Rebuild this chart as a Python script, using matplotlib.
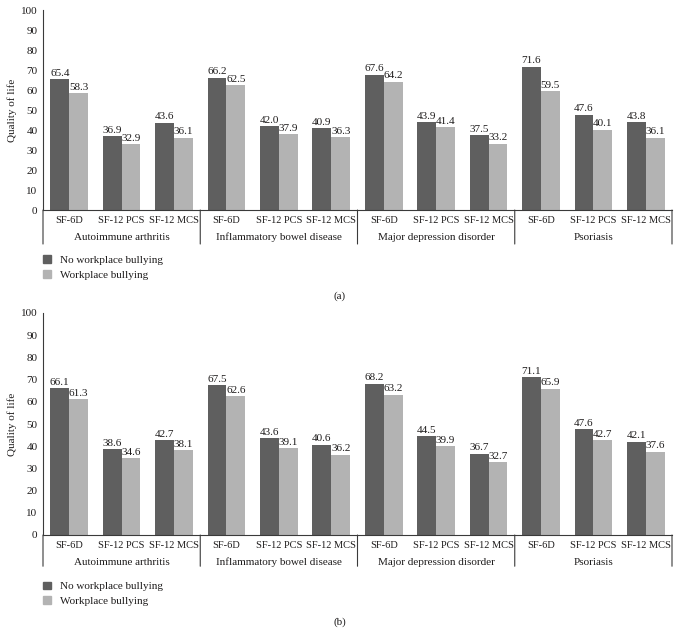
import matplotlib

matplotlib.use("Agg")
import matplotlib.pyplot as plt
from matplotlib.patches import Patch

plt.rcParams["font.family"] = ["Liberation Serif", "DejaVu Serif"]
plt.rcParams["font.size"] = 8

groups = ["Autoimmune arthritis", "Inflammatory bowel disease", "Major depression disorder", "Psoriasis"]
measures = ["SF-6D", "SF-12 PCS", "SF-12 MCS"]
series_names = ["No workplace bullying", "Workplace bullying"]

# panel (a)
a_no_bully = [65.4, 36.9, 43.6, 66.2, 42.0, 40.9, 67.6, 43.9, 37.5, 71.6, 47.6, 43.8]
a_bully = [58.3, 32.9, 36.1, 62.5, 37.9, 36.3, 64.2, 41.4, 33.2, 59.5, 40.1, 36.1]
# panel (b)
b_no_bully = [66.1, 38.6, 42.7, 67.5, 43.6, 40.6, 68.2, 44.5, 36.7, 71.1, 47.6, 42.1]
b_bully = [61.3, 34.6, 38.1, 62.6, 39.1, 36.2, 63.2, 39.9, 32.7, 65.9, 42.7, 37.6]

DARK = "#5f5f5f"
LIGHT = "#b3b3b3"
TEXT = "#1e1c1c"
LINE = "#3a3a3a"


def draw_panel(ax, no_bully, bully, sep_len, legend_y):
    n = len(no_bully)
    x = list(range(n))
    w = 0.36
    for vals, off, color in [(no_bully, -w / 2, DARK), (bully, w / 2, LIGHT)]:
        pos = [i + off for i in x]
        ax.bar(pos, vals, width=w, color=color, linewidth=0)
        for p, v in zip(pos, vals):
            ax.annotate(f"{v:.1f}", (p, v), xytext=(0, 1), textcoords="offset points",
                        ha="center", va="bottom", color=TEXT)

    ax.set_xlim(-0.5, n - 0.5)
    ax.set_ylim(0, 100)
    ax.set_yticks(range(0, 101, 10))
    ax.set_xticks([])
    ax.tick_params(axis="y", length=0, pad=4, colors=TEXT)
    for side in ["top", "right"]:
        ax.spines[side].set_visible(False)
    for side in ["left", "bottom"]:
        ax.spines[side].set_color(LINE)
        ax.spines[side].set_linewidth(0.8)
    ax.set_ylabel("Quality of life", color=TEXT)
    ax.yaxis.set_label_coords(-0.041, 0.5)

    # two-level category axis
    trans = ax.get_xaxis_transform()
    for i in x:
        ax.annotate(measures[i % len(measures)], (i, 0), xycoords=trans, xytext=(0, -7.5),
                    textcoords="offset points", ha="center", va="center", color=TEXT,
                    fontsize=7.5)
    per = len(measures)
    for g, name in enumerate(groups):
        center = g * per + (per - 1) / 2
        ax.annotate(name, (center, 0), xycoords=trans, xytext=(0, -19.5),
                    textcoords="offset points", ha="center", va="center", color=TEXT)
    for g in range(len(groups) + 1):
        b = g * per - 0.5
        ax.annotate("", xy=(b, 0), xycoords=trans, xytext=(0, -sep_len),
                    textcoords="offset points",
                    arrowprops=dict(arrowstyle="-", color=LINE, lw=0.8,
                                    shrinkA=0, shrinkB=0))

    handles = [Patch(color=DARK), Patch(color=LIGHT)]
    leg = ax.legend(handles, series_names, loc="upper left", bbox_to_anchor=(0.0, legend_y),
                    frameon=False, borderpad=0, borderaxespad=0, handlelength=0.7,
                    handleheight=0.7, handletextpad=0.8, labelspacing=0.45)
    for t in leg.get_texts():
        t.set_color(TEXT)


fig = plt.figure(figsize=(6.8, 6.33), dpi=100)
ax_a = fig.add_axes([43 / 680, 1 - 210 / 633, 629 / 680, 200 / 633])
ax_b = fig.add_axes([43 / 680, 1 - 535 / 633, 629 / 680, 222 / 633])

draw_panel(ax_a, a_no_bully, a_bully, 24.5, -0.225)
draw_panel(ax_b, b_no_bully, b_bully, 22.5, -0.21)

fig.text(0.5, 1 - 296 / 633, "(a)", ha="center", va="center", color=TEXT)
fig.text(0.5, 1 - 622 / 633, "(b)", ha="center", va="center", color=TEXT)

fig.savefig("out.png", dpi=100)
